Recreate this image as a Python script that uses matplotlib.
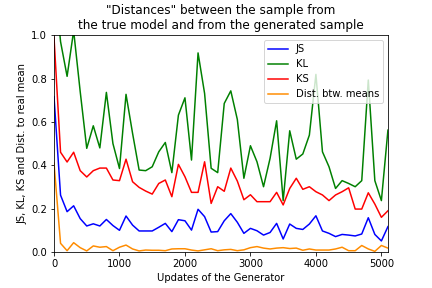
import numpy as np
import matplotlib
matplotlib.use("Agg")
import matplotlib.pyplot as plt

updates = np.arange(0, 5200, 100)

js = [0.716, 0.262, 0.186, 0.213, 0.154, 0.12, 0.13, 0.12, 0.15, 0.122,
      0.10, 0.166, 0.124, 0.097, 0.097, 0.097, 0.114, 0.132, 0.094, 0.149,
      0.144, 0.101, 0.197, 0.163, 0.092, 0.094, 0.144, 0.177, 0.137, 0.086,
      0.109, 0.098, 0.078, 0.09, 0.132, 0.06, 0.129, 0.109, 0.104, 0.129,
      0.167, 0.097, 0.086, 0.071, 0.081, 0.078, 0.074, 0.083, 0.158, 0.081,
      0.051, 0.117]
kl = [1.3, 0.97, 0.81, 1.02, 0.74, 0.478, 0.582, 0.48, 0.736, 0.50,
      0.385, 0.727, 0.547, 0.378, 0.375, 0.393, 0.462, 0.505, 0.366, 0.631,
      0.711, 0.424, 0.918, 0.731, 0.386, 0.366, 0.685, 0.743, 0.611, 0.34,
      0.49, 0.416, 0.301, 0.432, 0.605, 0.237, 0.559, 0.428, 0.452, 0.539,
      0.819, 0.462, 0.393, 0.293, 0.329, 0.316, 0.301, 0.329, 0.793, 0.329,
      0.237, 0.562]
ks = [0.99, 0.46, 0.415, 0.46, 0.375, 0.346, 0.375, 0.387, 0.387, 0.332,
      0.329, 0.428, 0.324, 0.298, 0.281, 0.267, 0.316, 0.332, 0.255, 0.404,
      0.347, 0.275, 0.275, 0.416, 0.224, 0.301, 0.28, 0.387, 0.327, 0.241,
      0.264, 0.232, 0.232, 0.232, 0.275, 0.217, 0.293, 0.34, 0.289, 0.301,
      0.278, 0.263, 0.237, 0.263, 0.278, 0.296, 0.198, 0.198, 0.273, 0.221,
      0.16, 0.19]
dist = [0.41, 0.04, 0.006, 0.043, 0.02, 0.005, 0.028, 0.022, 0.025, 0.006,
        0.022, 0.032, 0.014, 0.005, 0.009, 0.008, 0.008, 0.006, 0.014, 0.015,
        0.015, 0.009, 0.005, 0.01, 0.015, 0.006, 0.01, 0.012, 0.006, 0.01,
        0.02, 0.025, 0.018, 0.014, 0.018, 0.02, 0.016, 0.018, 0.008, 0.014,
        0.009, 0.009, 0.009, 0.014, 0.022, 0.006, 0.006, 0.03, 0.014, 0.003,
        0.03, 0.018]

fig = plt.figure(figsize=(6, 4), dpi=72)
plt.subplots_adjust(left=0.125, right=0.898, bottom=0.125, top=0.878)

plt.plot(updates, js, color="b", label="JS")
plt.plot(updates, kl, color="g", label="KL")
plt.plot(updates, ks, color="r", label="KS")
plt.plot(updates, dist, color="darkorange", label="Dist. btw. means")

plt.xlim(0, max(updates))
plt.ylim(0, 1)
plt.xlabel("Updates of the Generator")
plt.ylabel("JS, KL, KS and Dist. to real mean")
plt.title('"Distances" between the sample from\nthe true model and from the generated sample')
plt.legend(loc="upper right")

plt.savefig("out.png", dpi=72)
